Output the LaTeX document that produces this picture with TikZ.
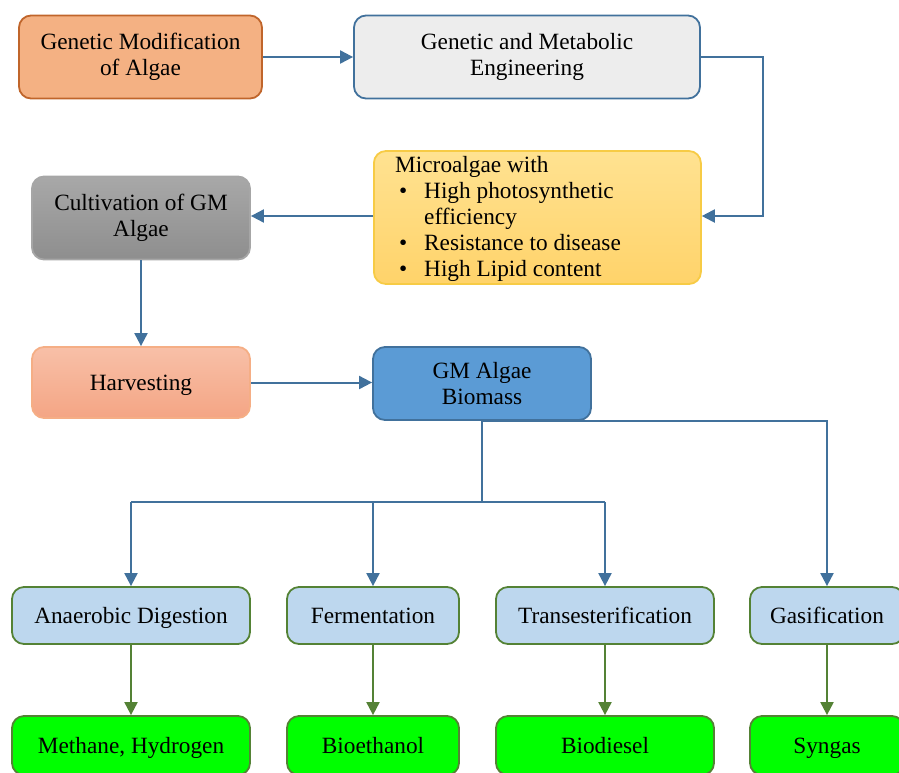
\documentclass[tikz,border=0pt]{standalone}
\usepackage{fontspec}
\setmainfont{Liberation Serif}
\usetikzlibrary{arrows.meta,calc}
\definecolor{orfill}{HTML}{F4B183}
\definecolor{ordraw}{HTML}{C0652B}
\definecolor{grfill}{HTML}{EDEDED}
\definecolor{bluedraw}{HTML}{41719C}
\definecolor{yeltop}{HTML}{FFE291}
\definecolor{yelbot}{HTML}{FFD36A}
\definecolor{yeldraw}{HTML}{F7CB45}
\definecolor{graytop}{HTML}{A8A8A8}
\definecolor{graybot}{HTML}{8E8E8E}
\definecolor{graydraw}{HTML}{A6A6A6}
\definecolor{saltop}{HTML}{F8C0A8}
\definecolor{salbot}{HTML}{F4A584}
\definecolor{saldraw}{HTML}{F5AE85}
\definecolor{bmfill}{HTML}{5B9BD5}
\definecolor{lbfill}{HTML}{BDD7EE}
\definecolor{gdraw}{HTML}{548235}
\definecolor{brgreen}{HTML}{00FF00}
\tikzset{
  base/.style={rounded corners=12pt, line width=1.8pt, inner sep=0pt, align=center,
    font=\fontsize{23.3}{26.5}\selectfont},
  oneline/.style={text height=17pt, text depth=2pt},
  boxA/.style={base, fill=orfill, draw=ordraw},
  boxB/.style={base, fill=grfill, draw=bluedraw},
  boxC/.style={base, top color=yeltop, bottom color=yelbot, draw=yeldraw},
  boxD/.style={base, top color=graytop, bottom color=graybot, draw=graydraw},
  boxE/.style={base, oneline, top color=saltop, bottom color=salbot, draw=saldraw},
  boxF/.style={base, fill=bmfill, draw=bluedraw},
  procbox/.style={base, oneline, fill=lbfill, draw=gdraw},
  prodbox/.style={base, oneline, fill=brgreen, draw=gdraw},
  barr/.style={draw=bluedraw, line width=2pt, -{Triangle[length=13pt,width=13pt]}},
  bline/.style={draw=bluedraw, line width=2pt},
  garr/.style={draw=gdraw, line width=2pt, -{Triangle[length=13pt,width=13pt]}}
}
\begin{document}
\begin{tikzpicture}[x=1pt,y=-1pt]
\useasboundingbox (0,0) rectangle (899,772);
\node[boxA, minimum width=243pt, minimum height=83pt] (b1) at (140.5,57) {Genetic Modification\\of Algae};
\node[boxB, minimum width=346pt, minimum height=83pt] (b2) at (527,57) {Genetic and Metabolic\\Engineering};
\node[boxC, minimum width=327pt, minimum height=133pt, anchor=west] (b3) at (373,217.5) {};
\node[anchor=west, align=left, inner sep=0pt, font=\fontsize{23.3}{25.8}\selectfont] (b3t) at (395,219)
  {Microalgae with\\
   \hspace*{4pt}\makebox[25pt][l]{\textbullet}High photosynthetic\\
   \hspace*{29pt}efficiency\\
   \hspace*{4pt}\makebox[25pt][l]{\textbullet}Resistance to disease\\
   \hspace*{4pt}\makebox[25pt][l]{\textbullet}High Lipid content};
\node[boxD, minimum width=218pt, minimum height=83pt] (b4) at (141,218) {Cultivation of GM\\Algae};
\node[boxE, minimum width=218pt, minimum height=71pt] (b5) at (141,382.5) {Harvesting};
\node[boxF, minimum width=218pt, minimum height=73pt] (b6) at (482,383.5) {GM Algae\\Biomass};

\node[procbox, minimum width=238pt, minimum height=57pt] (p1) at (131,615.5) {Anaerobic Digestion};
\node[procbox, minimum width=172pt, minimum height=57pt] (p2) at (373,615.5) {Fermentation};
\node[procbox, minimum width=218pt, minimum height=57pt] (p3) at (605,615.5) {Transesterification};
\node[procbox, minimum width=154pt, minimum height=57pt] (p4) at (827,615.5) {Gasification};

\node[prodbox, minimum width=238pt, minimum height=59pt] (q1) at (131,745.5) {Methane, Hydrogen};
\node[prodbox, minimum width=172pt, minimum height=59pt] (q2) at (373,745.5) {Bioethanol};
\node[prodbox, minimum width=218pt, minimum height=59pt] (q3) at (605,745.5) {Biodiesel};
\node[prodbox, minimum width=154pt, minimum height=59pt] (q4) at (827,745.5) {Syngas};

\coordinate (turn) at (763,216);
\coordinate (junc) at (482,502);

\draw[barr] (b1.east) -- (b2.west);
\draw[barr] (b2.east) -| (turn) -- (b3.east |- turn);
\draw[barr] (b3.west |- turn) -- (b4.east |- turn);
\draw[barr] (b4.south) -- (b5.north);
\draw[barr] (b5.east) -- (b5.east -| b6.west);
\draw[bline] (b6.south) -- (junc);
\draw[bline] (junc -| p1.north) -- (junc -| p3.north);
\draw[barr] (junc -| p1.north) -- (p1.north);
\draw[barr] (junc -| p2.north) -- (p2.north);
\draw[barr] (junc -| p3.north) -- (p3.north);
\draw[barr] (b6.south) -| (p4.north);

\draw[garr] (p1.south) -- (q1.north);
\draw[garr] (p2.south) -- (q2.north);
\draw[garr] (p3.south) -- (q3.north);
\draw[garr] (p4.south) -- (q4.north);
\end{tikzpicture}
\end{document}
